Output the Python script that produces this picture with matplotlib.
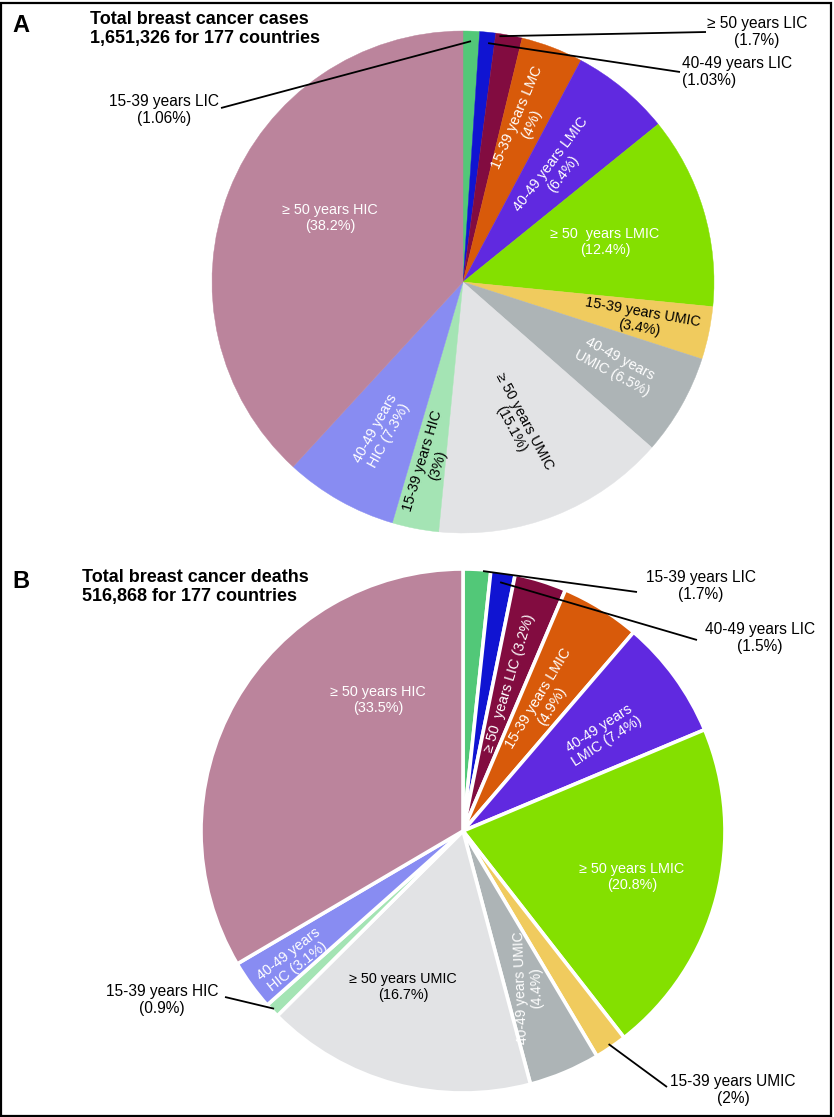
import matplotlib
matplotlib.use("Agg")
import matplotlib.pyplot as plt
from matplotlib.patches import Rectangle
import numpy as np

plt.rcParams['font.family'] = ['Liberation Sans', 'DejaVu Sans']

W, H = 834, 1117

# ---------------- data ----------------
groups = ['15-39 years LIC', '40-49 years LIC', '≥ 50 years LIC',
          '15-39 years LMIC', '40-49 years LMIC', '≥ 50 years LMIC',
          '15-39 years UMIC', '40-49 years UMIC', '≥ 50 years UMIC',
          '15-39 years HIC', '40-49 years HIC', '≥ 50 years HIC']
cases_pct = [1.06, 1.03, 1.7, 4, 6.4, 12.4, 3.4, 6.5, 15.1, 3, 7.3, 38.2]
deaths_pct = [1.7, 1.5, 3.2, 4.9, 7.4, 20.8, 2, 4.4, 16.7, 0.9, 3.1, 33.5]
colors = ['#52C878', '#1014D2', '#820C40', '#D85A0A', '#6029E0', '#84E000',
          '#F0CB5E', '#ADB4B6', '#E2E3E5', '#A4E4B4', '#888CF2', '#BB849C']

title_a = 'Total breast cancer cases\n1,651,326 for 177 countries'
title_b = 'Total breast cancer deaths\n516,868 for 177 countries'

# inside labels: (text, x, y, rotation, color, size) -- layout in pixels
inside_a = [
    ('15-39 years LMC\n(4%)', 524, 121, 67, 'white', 10.4),
    ('40-49 years LMIC\n(6.4%)', 557, 169, 53, 'white', 10.4),
    ('≥ 50  years LMIC\n(12.4%)', 605, 242, 0, 'white', 10.4),
    ('15-39 years UMIC\n(3.4%)', 641, 320, -10, 'black', 10.4),
    ('40-49 years\nUMIC (6.5%)', 616, 366, -28, 'white', 10.4),
    ('≥ 50 years UMIC\n(15.1%)', 518, 425, -62, 'black', 10.4),
    ('15-39 years HIC\n(3%)', 430, 463, 73, 'black', 10.4),
    ('40-49 years\nHIC (7.3%)', 382, 432, 61, 'white', 10.4),
    ('≥ 50 years HIC\n(38.2%)', 330, 218, 0, 'white', 10.4),
]
inside_b = [
    ('≥ 50  years LIC (3.2%)', 509, 683, 73, 'white', 10.4),
    ('15-39 years LMIC\n(4.9%)', 545, 702, 59, 'white', 10.4),
    ('40-49 years\nLMIC (7.4%)', 603, 735, 33, 'white', 10.4),
    ('≥ 50 years LMIC\n(20.8%)', 632, 877, 0, 'white', 10.4),
    ('40-49 years UMIC\n(4.4%)', 529, 988, 92, 'white', 10.0),
    ('≥ 50 years UMIC\n(16.7%)', 403, 987, 0, 'black', 10.4),
    ('40-49 years\nHIC (3.1%)', 293, 960, 38, 'white', 10.4),
    ('≥ 50 years HIC\n(33.5%)', 378, 700, 0, 'white', 10.4),
]
# outside labels: (text, x, y, ha, wedge index, line start x, y, frac along wedge, radial frac)
outside_a = [
    ('15-39 years LIC\n(1.06%)', 164, 110, 'center', 0, 221, 108, 0.5, 0.96),
    ('≥ 50 years LIC\n(1.7%)', 757, 32, 'center', 2, 706, 32, 0.85, 0.99),
    ('40-49 years LIC\n(1.03%)', 682, 72, 'left', 1, 680, 72, 0.41, 0.957),
]
outside_b = [
    ('15-39 years LIC\n(1.7%)', 701, 586, 'center', 0, 637, 592, 0.28, 0.995),
    ('40-49 years LIC\n(1.5%)', 760, 638, 'center', 1, 697, 640, 0.56, 0.96),
    ('15-39 years HIC\n(0.9%)', 162, 1000, 'center', 9, 225, 997, 0.5, 0.99),
    ('15-39 years UMIC\n(2%)', 733, 1090, 'center', 6, 667, 1087, 0.5, 0.985),
]

fig = plt.figure(figsize=(W / 100, H / 100), dpi=100)
ax = fig.add_axes([0, 0, 1, 1])


def T(x, y, s, **kw):
    return ax.text(x, H - y, s, **kw)


def wedge_point(w, f, rf):
    th = np.deg2rad(w.theta1 + f * (w.theta2 - w.theta1))
    cx, cy = w.center
    return cx + rf * w.r * np.cos(th), cy + rf * w.r * np.sin(th)


def draw_panel(values, center, radius, lw, inside, outside, letter, lpos, title, tpos):
    wedges, _ = ax.pie(values, colors=colors, startangle=90, counterclock=False,
                       center=(center[0], H - center[1]), radius=radius, frame=True,
                       wedgeprops=dict(linewidth=lw, edgecolor='white' if lw > 0 else None))
    if lw == 0:
        for w in wedges:
            w.set_edgecolor(w.get_facecolor())
            w.set_linewidth(0.3)
    for s, x, y, rot, c, fs in inside:
        T(x, y, s, ha='center', va='center', rotation=rot, rotation_mode='anchor',
          color=c, fontsize=fs, linespacing=1.15)
    for s, x, y, ha, idx, lx, ly, f, rf in outside:
        T(x, y, s, ha=ha, va='center', color='black', fontsize=11.2, linespacing=1.15,
          multialignment='left' if ha == 'left' else 'center')
        px, py = wedge_point(wedges[idx], f, rf)
        ax.plot([lx, px], [H - ly, py], color='black', lw=1.3, solid_capstyle='butt')
    T(lpos[0], lpos[1], letter, ha='left', va='center', fontsize=17, fontweight='bold')
    T(tpos[0], tpos[1], title, ha='left', va='center', fontsize=13, fontweight='bold',
      linespacing=1.2)


draw_panel(cases_pct, (463, 282), 251, 0, inside_a, outside_a, 'A', (12, 25), title_a, (90, 29))
draw_panel(deaths_pct, (463, 831), 262, 2.6, inside_b, outside_b, 'B', (12, 582), title_b, (82, 587))

ax.set_xlim(0, W)
ax.set_ylim(0, H)
ax.set_aspect('equal')
ax.axis('off')

ax.add_patch(Rectangle((1.5, 1.5), W - 4, H - 4, fill=False, edgecolor='black',
                       linewidth=1.6, clip_on=False))

fig.savefig('out.png', dpi=100)
